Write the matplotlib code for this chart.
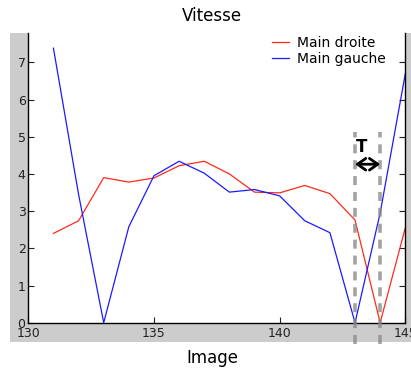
import matplotlib
matplotlib.use('Agg')
from matplotlib import pyplot as plt
from matplotlib.patches import Rectangle

# frame numbers and speeds
frames = list(range(131, 146))
main_droite = [2.40, 2.74, 3.90, 3.78, 3.89, 4.22, 4.34, 4.00, 3.51, 3.49, 3.69, 3.47, 2.76, 0.0, 2.55]
main_gauche = [7.38, 3.45, 0.0, 2.58, 3.95, 4.34, 4.02, 3.51, 3.58, 3.41, 2.74, 2.42, 0.0, 2.95, 6.69]
x_ticks = [130, 135, 140, 145]
y_ticks = [0, 1, 2, 3, 4, 5, 6, 7]
period_marks = [143, 144]

fig = plt.figure(figsize=(4.11, 3.72), dpi=100)

# grey box behind the axes (MATLAB figure background)
fig.patches.append(Rectangle((10 / 411, 30.3 / 372), 1 - 10 / 411, (338.7 - 30.3) / 372,
                             transform=fig.transFigure, facecolor='#cccccc',
                             edgecolor='none', zorder=-1))

ax = fig.add_axes((28.3 / 411, 49.3 / 372, 377 / 411, 289.4 / 372))
ax.set_facecolor('white')

ax.plot(frames, main_droite, color='#ff2a1a', lw=0.9, label='Main droite')
ax.plot(frames, main_gauche, color='#1a1aff', lw=0.9, label='Main gauche')

ax.set_xlim(130, 145)
ax.set_ylim(0, 7.78)
ax.set_xticks(x_ticks)
ax.set_yticks(y_ticks)
ax.tick_params(direction='in', length=4, labelsize=9, colors='#222222',
               right=True, top=False, pad=2)
ax.tick_params(axis='x', pad=3)
ax.spines['top'].set_visible(False)
for s in ['left', 'bottom', 'right']:
    ax.spines[s].set_linewidth(1.0)
    ax.spines[s].set_color('black')

# period marks
for xm in period_marks:
    ax.plot([xm, xm], [-0.58, 5.13], color='#8c8c8c', lw=2.6, alpha=0.8,
            dashes=(2.5, 1.9), clip_on=False, zorder=5)
ax.annotate('', xy=(period_marks[0], 4.26), xytext=(period_marks[1], 4.26),
            arrowprops=dict(arrowstyle='<->,head_length=0.5,head_width=0.35', color='black',
                            lw=2.0, mutation_scale=12, shrinkA=0, shrinkB=0), zorder=6)
ax.text(143.27, 4.72, 'T', fontsize=12, fontweight='bold', ha='center', va='center', zorder=6)

ax.legend(loc='upper right', bbox_to_anchor=(0.97, 1.02), frameon=False, fontsize=10,
          handlelength=1.2, handletextpad=0.6, labelspacing=0.15, borderaxespad=0.2)

fig.text(212 / 411, 1 - 16 / 372, 'Vitesse', ha='center', va='center', fontsize=12)
fig.text(212 / 411, 1 - 358 / 372, 'Image', ha='center', va='center', fontsize=12)

fig.savefig('out.png', dpi=100)
